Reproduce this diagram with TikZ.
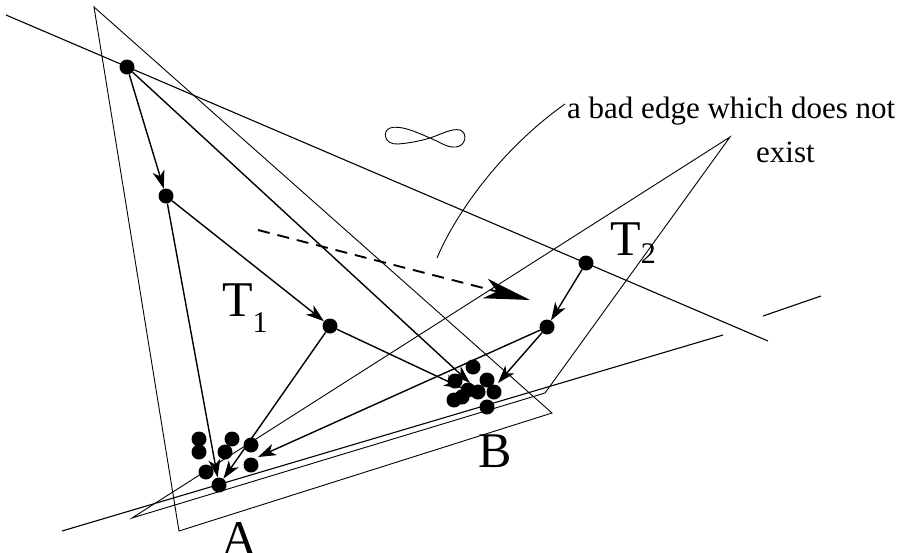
\documentclass[tikz,border=0pt]{standalone}
\usepackage{fontspec}
\setmainfont{Liberation Serif}
\usetikzlibrary{arrows.meta}

\begin{document}
\begin{tikzpicture}[
    x=1pt, y=-1pt,
    dot/.style={circle, fill=black, inner sep=0pt, minimum size=15pt},
    thinline/.style={line width=0.9pt},
    edge/.style={-{Stealth[length=18pt, width=12pt, inset=5pt]}, line width=1.4pt},
    badedge/.style={-{Stealth[length=46pt, width=20pt, inset=12pt]}, line width=1.9pt, dash pattern=on 12pt off 8pt},
    lbl/.style={font=\fontsize{50}{50}\selectfont, inner sep=0pt, anchor=base west},
    note/.style={font=\fontsize{31}{31}\selectfont, inner sep=0pt, anchor=base west}
]
\useasboundingbox (0,0) rectangle (904,552);

% ===== TRIANGLES AND LINES =====
\coordinate (t1a) at (94,7);
\coordinate (t1b) at (179,531);
\coordinate (t1c) at (552,413);
\coordinate (t2a) at (730,137);
\coordinate (t2b) at (132,518);
\coordinate (t2c) at (545,393);
\draw[thinline] (t1a) -- (t1b) -- (t1c) -- cycle;
\draw[thinline] (t2a) -- (t2b) -- (t2c) -- cycle;

\coordinate (topL) at (6,15);
\coordinate (topR) at (768,341);
\coordinate (botL) at (62,531);
\coordinate (botR) at (723,335);
\coordinate (gapL) at (763,316);
\coordinate (gapR) at (821,296);
\draw[line width=1.1pt] (topL) -- (topR);
\draw[line width=1.1pt] (botL) -- (botR);
\draw[line width=1.1pt] (gapL) -- (gapR);

% infinity
\draw[thinline] (430,138) .. controls (414,131) and (400,125) .. (390,128)
    .. controls (382,131) and (384,145) .. (398,144)
    .. controls (410,143) and (420,141) .. (430,138)
    .. controls (442,134) and (452,128) .. (460,130)
    .. controls (468,133) and (466,146) .. (456,147)
    .. controls (447,148) and (440,142) .. cycle;

% ===== DOTS =====
\node[dot] (p0) at (127,67) {};
\node[dot] (p1) at (166,196) {};
\node[dot] (p2) at (330,326) {};
\node[dot] (p3) at (586,263) {};
\node[dot] (p4) at (547,327) {};

\node[dot] (a1) at (199,439) {};
\node[dot] (a2) at (199,452) {};
\node[dot] (a3) at (232,439) {};
\node[dot] (a4) at (225,452) {};
\node[dot] (a5) at (251,445) {};
\node[dot] (a6) at (251,465) {};
\node[dot] (a7) at (206,472) {};
\node[dot] (a8) at (219,485) {};

\node[dot] (b1) at (473,367) {};
\node[dot] (b2) at (455,381) {};
\node[dot] (b3) at (487,380) {};
\node[dot] (b4) at (468,390) {};
\node[dot] (b5) at (478,392) {};
\node[dot] (b6) at (462,397) {};
\node[dot] (b7) at (454,400) {};
\node[dot] (b8) at (494,392) {};
\node[dot] (b9) at (487,407) {};

% ===== EDGES =====
\coordinate (tipA) at (258,457);
\coordinate (tipB0) at (470,383);
\coordinate (tipB2) at (462,388);
\coordinate (tipB4) at (498,383);

\draw[edge] (p0) -- (p1);
\draw[edge] (p1) -- (p2);
\draw[edge] (p1) -- (a8);
\draw[edge] (p2) -- (a8);
\draw[edge] (p3) -- (p4);
\draw[edge] (p4) -- (tipA);
\draw[edge] (p0) -- (tipB0);
\draw[edge] (p2) -- (tipB2);
\draw[edge] (p4) -- (tipB4);

% the bad edge
\coordinate (dashS) at (258,230);
\coordinate (dashE) at (530,300);
\draw[badedge] (dashS) -- (dashE);

% ===== LABELS =====
\node[lbl] (lT1) at (222,316) {T\raisebox{-16pt}{\fontsize{30}{30}\selectfont 1}};
\node[lbl] (lT2) at (610,255) {T\raisebox{-8pt}{\fontsize{30}{30}\selectfont 2}};
\node[lbl] (lA) at (221,555) {A};
\node[lbl] (lB) at (478,467) {B};
\node[note] (bad) at (567,118) {a bad edge which does not};
\node[note] (exist) at (756,162) {exist};

\coordinate (leadS) at (437,258);
\coordinate (leadE) at (565,104);
\draw[thinline] (leadS) .. controls (455,215) and (500,150) .. (leadE);

\end{tikzpicture}
\end{document}
